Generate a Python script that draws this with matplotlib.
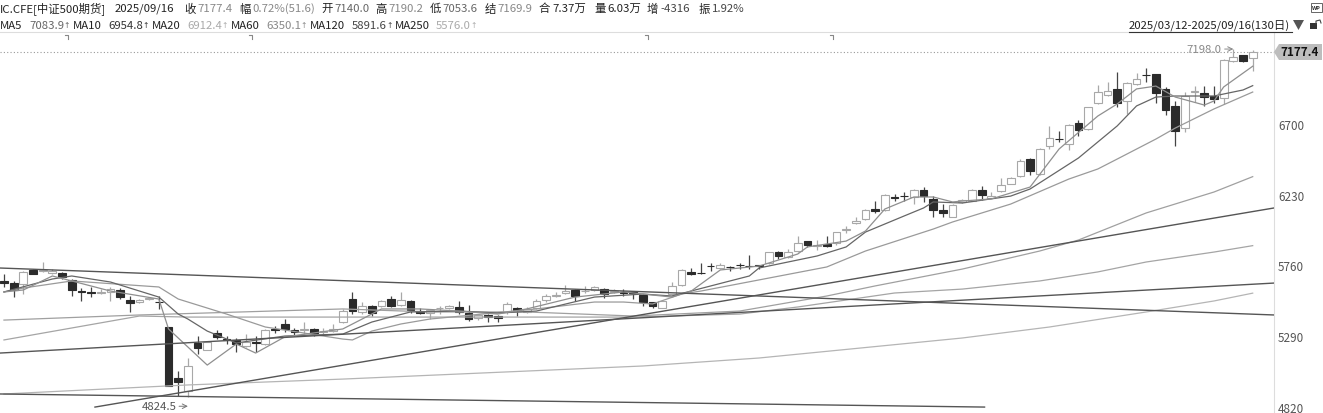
import matplotlib as mpl
mpl.use("Agg")
import matplotlib.pyplot as plt
from matplotlib.patches import Polygon, Rectangle

plt.rcParams["font.family"] = ["Noto Sans CJK SC", "DejaVu Sans"]

WIDTH = 1323
HEIGHT = 414

opens = [5655,5641,5637,5728,5725,5710,5710,5663,5593,5581,
    5575,5581,5599,5533,5519,5539,5519,5353,5012,4928,
    5243,5200,5311,5271,5265,5227,5254,5238,5340,5369,
    5333,5331,5338,5320,5327,5382,5537,5449,5493,5493,
    5539,5499,5522,5455,5442,5475,5480,5486,5444,5411,
    5431,5424,5453,5480,5453,5477,5528,5559,5575,5599,
    5590,5595,5601,5584,5582,5581,5564,5515,5480,5570,
    5632,5719,5710,5757,5745,5748,5761,5757,5761,5774,
    5849,5818,5858,5920,5889,5900,5909,5993,6042,6069,
    6137,6126,6213,6224,6213,6261,6199,6131,6084,6180,
    6191,6264,6210,6257,6303,6352,6467,6368,6556,6601,
    6569,6704,6667,6837,6893,6930,6853,6966,7025,7030,
    6933,6817,6671,6910,6906,6888,6871,7116,7158,7140]
closes = [5641,5599,5719,5706,5732,5725,5681,5595,5586,5577,
    5581,5604,5550,5508,5533,5544,5515,4957,4983,5090,
    5212,5249,5285,5267,5240,5254,5247,5333,5331,5336,
    5320,5338,5313,5325,5338,5460,5460,5493,5444,5522,
    5491,5533,5464,5444,5464,5480,5493,5453,5404,5431,
    5417,5409,5502,5466,5471,5526,5559,5564,5592,5557,
    5593,5615,5568,5588,5580,5577,5519,5488,5526,5621,
    5730,5703,5708,5755,5763,5747,5760,5755,5754,5847,
    5821,5847,5911,5898,5896,5892,5980,6002,6055,6131,
    6120,6228,6211,6222,6264,6224,6131,6109,6164,6195,
    6264,6230,6219,6297,6343,6452,6386,6534,6607,6599,
    6696,6660,6811,6913,6917,6842,6972,6997,7023,6904,
    6795,6653,6888,6922,6877,6868,7127,7143,7119,7177.4]
highs = [5703,5659,5725,5737,5781,5735,5719,5670,5608,5615,
    5604,5615,5608,5559,5540,5553,5559,5353,5061,5143,
    5289,5252,5331,5289,5276,5305,5289,5337,5356,5404,
    5342,5382,5347,5342,5371,5470,5581,5519,5499,5530,
    5555,5581,5528,5475,5470,5493,5497,5522,5499,5437,
    5436,5430,5519,5486,5482,5537,5573,5581,5630,5603,
    5626,5626,5610,5604,5604,5585,5570,5520,5530,5648,
    5735,5741,5776,5774,5775,5759,5776,5830,5765,5850,
    5858,5869,5958,5925,5931,5958,5985,6020,6080,6135,
    6186,6232,6235,6250,6268,6279,6224,6168,6168,6200,
    6268,6290,6250,6341,6350,6467,6472,6540,6689,6656,
    6700,6727,6815,6959,6981,7043,6977,7039,7070,7035,
    6944,6855,6910,6955,6950,6950,7130,7198,7160,7190.2]
lows = [5615,5548,5570,5700,5719,5700,5670,5559,5526,5548,
    5570,5526,5537,5449,5510,5533,5471,4957,4895,4884,
    5172,5198,5271,5238,5187,5216,5183,5231,5311,5320,
    5289,5305,5294,5305,5316,5375,5437,5440,5422,5485,
    5482,5490,5444,5435,5404,5437,5473,5437,5393,5400,
    5386,5386,5437,5426,5445,5471,5519,5552,5570,5526,
    5580,5590,5541,5575,5559,5537,5493,5477,5477,5565,
    5625,5695,5703,5725,5735,5725,5737,5737,5737,5770,
    5803,5810,5850,5880,5863,5885,5896,5976,6035,6060,
    6110,6120,6186,6190,6168,6180,6084,6084,6080,6175,
    6185,6195,6205,6250,6298,6345,6361,6362,6534,6578,
    6529,6618,6660,6830,6885,6815,6766,6960,6977,6837,
    6762,6552,6645,6844,6822,6837,6833,7112,7110,7053.6]

ma5_x = [0,2,5,7,11,16,17,21,24,26,29,35,37,39,43,47,51,54,59,64,69,71,74,78,82,83,87,89,91,94,96,98,99,102,106,109,113,115,117,119,121,124,125,126,129]
ma5_y = [5584,5597,5690,5657,5590,5537,5338,5098,5238,5178,5285,5338,5404,5471,5471,5457,5437,5471,5550,5584,5550,5590,5730,5756,5836,5883,5922,5989,6135,6215,6215,6182,6188,6202,6281,6534,6753,6833,6933,6952,6879,6826,6853,6946,7083.9]
ma10_x = [0,5,7,11,16,18,19,21,24,29,35,38,42,47,51,55,61,66,69,75,77,78,84,87,89,93,95,96,99,104,106,111,115,117,119,121,125,128,129]
ma10_y = [5584,5670,5690,5650,5550,5437,5404,5324,5245,5291,5304,5384,5451,5457,5444,5457,5550,5570,5557,5657,5690,5743,5823,5883,5982,6089,6142,6182,6175,6221,6268,6474,6687,6820,6879,6886,6886,6926,6954.8]
ma20_x = [0,2,7,16,18,23,27,35,36,38,41,44,55,61,64,67,70,72,85,89,96,98,104,110,113,115,119,121,125,129]
ma20_y = [5584,5610,5657,5617,5537,5437,5351,5271,5265,5324,5371,5404,5471,5517,5517,5504,5570,5590,5750,5856,6002,6049,6168,6334,6401,6467,6600,6673,6800,6912.4]
ma60_x = [0,14,35,44,54,65,76,85,90,99,107,111,118,125,129]
ma60_y = [5397,5431,5471,5451,5451,5424,5457,5557,5624,5736,5856,5929,6109,6248,6350.1]
ma120_x = [0,14,19,35,41,54,65,76,82,92,99,107,113,118,125,129]
ma120_y = [5265,5424,5417,5417,5417,5417,5417,5437,5484,5577,5603,5657,5717,5783,5849,5891.6]
ma250_x = [0,19,35,66,78,99,108,118,125,129]
ma250_y = [4906,4966,5005,5092,5145,5278,5351,5451,5524,5576]

trend_rise_x = [9.4,131.2]
trend_rise_y = [4819,6142]
trend_fall_x = [-0.4,131.2]
trend_fall_y = [5743,5431]
trend_mid_x = [-0.4,131.2]
trend_mid_y = [5178,5643]
trend_low_x = [-0.4,101.3]
trend_low_y = [4906,4819]

ytick_values = [6700,6230,5760,5290,4820]

header_row1 = [
    ("IC.CFE[中证500期货]", 0, "#222222"), ("2025/09/16", 115, "#222222"),
    ("收", 184, "#222222"), ("7177.4", 197, "#888888"),
    ("幅", 239, "#222222"), ("0.72%(51.6)", 252, "#888888"),
    ("开", 321, "#222222"), ("7140.0", 334, "#666666"),
    ("高", 375, "#222222"), ("7190.2", 388, "#888888"),
    ("低", 430, "#222222"), ("7053.6", 442, "#666666"),
    ("结", 485, "#222222"), ("7169.9", 497, "#888888"),
    ("合", 539, "#222222"), ("7.37万", 552, "#222222"),
    ("量", 594, "#222222"), ("6.03万", 607, "#222222"),
    ("增", 647, "#222222"), ("-4316", 660, "#444444"),
    ("振", 699, "#222222"), ("1.92%", 712, "#444444"),
]
ma_names = [("MA5", 0), ("MA10", 73), ("MA20", 152), ("MA60", 231), ("MA120", 310), ("MA250", 395)]
ma_values = [("7083.9", 29, "#666666"), ("6954.8", 108, "#333333"), ("6912.4", 187, "#aaaaaa"),
             ("6350.1", 266, "#888888"), ("5891.6", 352, "#444444"), ("5576.0", 436, "#aaaaaa")]
top_marks = [68,252,648,833]


def px(x, y):
    return x / WIDTH, 1 - y / HEIGHT


def label(fig, x, y, s, **kw):
    xf, yf = px(x, y)
    fig.text(xf, yf, s, va="center", **kw)


def draw_candles(ax):
    for i in range(len(opens)):
        o, h, l, c = opens[i], highs[i], lows[i], closes[i]
        if c >= o:
            edge, face = "#a8a8a8", "white"
        else:
            edge, face = "#2b2b2b", "#2b2b2b"
        wick = "#a8a8a8" if c >= o else "#444444"
        ax.vlines(i, l, h, color=wick, lw=0.9, zorder=2)
        ax.bar(i, abs(c - o), bottom=min(o, c), width=0.8, facecolor=face, edgecolor=edge, lw=0.8, zorder=2.5)


def draw_lines(ax):
    ax.plot(ma250_x, ma250_y, color="#b5b5b5", lw=0.9, zorder=3)
    ax.plot(ma120_x, ma120_y, color="#a5a5a5", lw=0.9, zorder=3)
    ax.plot(ma60_x, ma60_y, color="#a0a0a0", lw=0.9, zorder=3)
    ax.plot(ma20_x, ma20_y, color="#9a9a9a", lw=0.9, zorder=3)
    ax.plot(ma10_x, ma10_y, color="#666666", lw=0.9, zorder=3)
    ax.plot(ma5_x, ma5_y, color="#8f8f8f", lw=0.9, zorder=3)

    for xs, ys in [(trend_rise_x, trend_rise_y), (trend_fall_x, trend_fall_y),
                   (trend_mid_x, trend_mid_y), (trend_low_x, trend_low_y)]:
        ax.plot(xs, ys, color="#555555", lw=1.0, zorder=3)


def draw_header(fig):
    for s, x, col in header_row1:
        label(fig, x, 9, s, color=col, fontsize=8.2, ha="left")
    for s, x in ma_names:
        label(fig, x, 26, s, color="#222222", fontsize=8.2, ha="left")
    for s, x, col in ma_values:
        label(fig, x, 26, s, color=col, fontsize=8.2, ha="left")
        label(fig, x + 34, 26, "↑", color=col, fontsize=5.5, ha="left", family="DejaVu Sans")

    label(fig, 1129, 26, "2025/03/12-2025/09/16(130日)", color="#222222", fontsize=8.2, ha="left")
    xa, ya = px(1129, 33)
    xb, yb = px(1292, 33)
    fig.add_artist(plt.Line2D([xa, xb], [ya, yb], color="#333333", lw=0.8))

    tri = [px(1293, 21), px(1304, 21), px(1298.5, 31)]
    fig.add_artist(Polygon(tri, closed=True, transform=fig.transFigure, facecolor="#555555", edgecolor="none"))

    # lock icon
    x0, y0 = px(1310, 30)
    fig.add_artist(Rectangle((x0, y0), 7 / WIDTH, 6 / HEIGHT, transform=fig.transFigure, facecolor="#333333", edgecolor="none"))
    xs, ys = zip(px(1316, 25), px(1316, 22), px(1320, 21), px(1321, 24))
    fig.add_artist(plt.Line2D(xs, ys, color="#444444", lw=0.8))

    # WP icon
    x0, y0 = px(1311, 13)
    fig.add_artist(Rectangle((x0, y0), 11 / WIDTH, 9 / HEIGHT, transform=fig.transFigure, facecolor="white", edgecolor="#666666", lw=0.7))
    label(fig, 1316.5, 8.5, "WP", color="#333333", fontsize=4, ha="center", fontweight="bold")


def draw_tag(fig):
    pts = [px(1274, 53), px(1279, 45), px(1322, 45), px(1322, 61), px(1279, 61)]
    fig.add_artist(Polygon(pts, closed=True, transform=fig.transFigure, facecolor="#bdbdbd", edgecolor="none"))
    label(fig, 1300, 53, "7177.4", color="#111111", fontsize=8.4, ha="center", fontweight="bold")


def Chart():
    fig = plt.figure(figsize=(WIDTH / 100, HEIGHT / 100), dpi=100, facecolor="white")
    ax = fig.add_axes([0, 0, 1274 / WIDTH, 1 - 33 / HEIGHT])

    ax.set_xlim(-0.41, 131.2)
    ax.set_ylim(4779.6, 7311.3)
    ax.set_xticks([])
    ax.yaxis.tick_right()
    ax.set_yticks(ytick_values)
    ax.tick_params(axis="y", length=0, pad=3, labelsize=8.4, labelcolor="#555555")

    for side in ["left", "bottom"]:
        ax.spines[side].set_visible(False)
    ax.spines["top"].set_color("#dddddd")
    ax.spines["right"].set_color("#dddddd")

    draw_candles(ax)
    draw_lines(ax)

    ax.axhline(closes[-1], color="#999999", lw=0.8, ls=(0, (1, 2)), zorder=1)

    ax.annotate("7198.0", xy=(127, 7198), xytext=(122.2, 7198), va="center", fontsize=8.2, color="#888888",
                arrowprops=dict(arrowstyle="->", color="#888888", lw=0.7, shrinkA=0, shrinkB=0))
    ax.annotate("4824.5", xy=(19, 4824.5), xytext=(14.2, 4824.5), va="center", fontsize=8.2, color="#555555",
                arrowprops=dict(arrowstyle="->", color="#777777", lw=0.7, shrinkA=0, shrinkB=0))

    # small corner marks under the header
    for x in top_marks:
        xs, ys = zip(px(x - 3, 36), px(x, 36), px(x, 40))
        fig.add_artist(plt.Line2D(xs, ys, color="#888888", lw=0.8))

    draw_header(fig)
    draw_tag(fig)

    fig.savefig("out.png", dpi=100)


Chart()
